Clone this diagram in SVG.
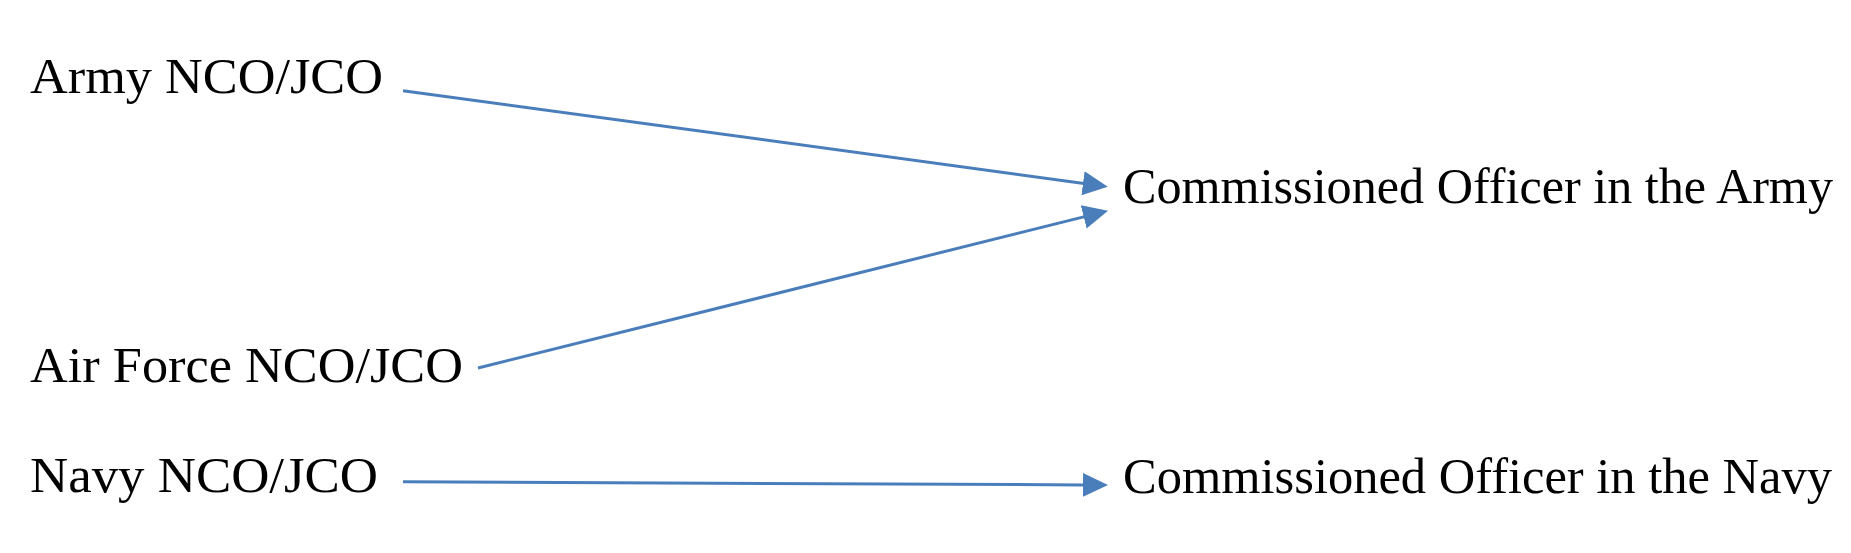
<svg xmlns="http://www.w3.org/2000/svg" width="1851" height="553" viewBox="0 0 1851 553">
<style>
.lbl{font-family:"Liberation Serif","Times New Roman",serif;font-size:50px;fill:#000}
.con{stroke:#4A7EBB;stroke-width:3;fill:none}
</style>
<defs>
<marker id="ah" markerUnits="userSpaceOnUse" markerWidth="27" markerHeight="26" viewBox="0 -13 27 26" refX="1" refY="0" orient="auto">
<path d="M0,-12 L25,0 L0,12 z" fill="#4A7EBB"/>
</marker>
</defs>
<rect width="1851" height="553" fill="#fff"/>
<g id="army-nco"><text class="lbl" x="30" y="93" textLength="353" lengthAdjust="spacingAndGlyphs">Army NCO/JCO</text></g>
<g id="airforce-nco"><text class="lbl" x="30" y="382" textLength="433" lengthAdjust="spacingAndGlyphs">Air Force NCO/JCO</text></g>
<g id="navy-nco"><text class="lbl" x="30" y="492" textLength="348" lengthAdjust="spacingAndGlyphs">Navy NCO/JCO</text></g>
<g id="army-officer"><text class="lbl" x="1123" y="203" textLength="710" lengthAdjust="spacingAndGlyphs">Commissioned Officer in the Army</text></g>
<g id="navy-officer"><text class="lbl" x="1123" y="493" textLength="709" lengthAdjust="spacingAndGlyphs">Commissioned Officer in the Navy</text></g>
<g id="connectors">
<line class="con" x1="403" y1="90.7" x2="1084" y2="183.4" marker-end="url(#ah)"/>
<line class="con" x1="478" y1="368" x2="1084.7" y2="216.6" marker-end="url(#ah)"/>
<line class="con" x1="403" y1="481.7" x2="1084" y2="484.9" marker-end="url(#ah)"/>
</g>
</svg>
